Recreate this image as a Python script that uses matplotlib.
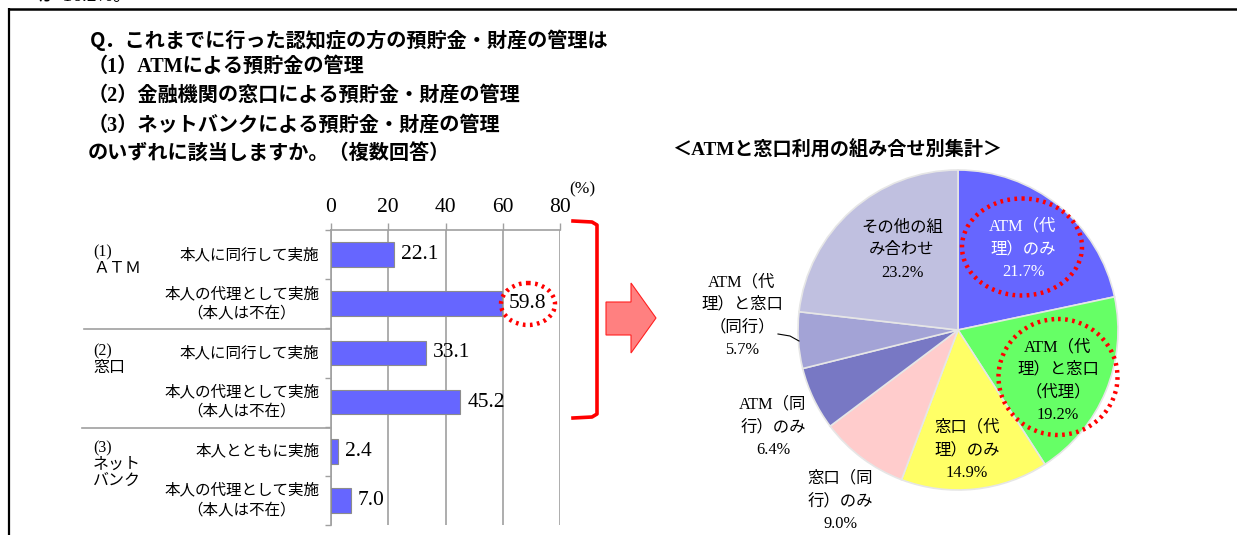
import matplotlib
matplotlib.use('Agg')
import matplotlib.pyplot as plt
from matplotlib.patches import Ellipse, Polygon
import numpy as np

W, H = 1237, 535
JP = 'Noto Sans CJK JP'
SERIF = 'Liberation Serif'
MIX = [SERIF, JP]

# ---------------- data ----------------
bar_labels = ['本人に同行して実施', '本人の代理として実施\n（本人は不在）',
              '本人に同行して実施', '本人の代理として実施\n（本人は不在）',
              '本人とともに実施', '本人の代理として実施\n（本人は不在）']
bar_values = [22.1, 59.8, 33.1, 45.2, 2.4, 7.0]
group_labels = ['(1)\nＡＴＭ', '(2)\n窓口', '(3)\nネット\nバンク']
x_ticks = [0, 20, 40, 60, 80]

pie_labels = ['ATM（代\n理）のみ', 'ATM（代\n理）と窓口\n（代理）', '窓口（代\n理）のみ',
              '窓口（同\n行）のみ', 'ATM（同\n行）のみ', 'ATM（代\n理）と窓口\n（同行）',
              'その他の組\nみ合わせ']
pie_values = [21.7, 19.2, 14.9, 9.0, 6.4, 5.7, 23.2]
pie_colors = ['#6666FF', '#66FF66', '#FFFF66', '#FFCCCC', '#7878C4', '#A3A3D6', '#C0C0E0']
pie_text_colors = ['white', 'black', 'black', 'black', 'black', 'black', 'black']

title_lines = ['Q．これまでに行った認知症の方の預貯金・財産の管理は',
               '（1）ATMによる預貯金の管理',
               '（2）金融機関の窓口による預貯金・財産の管理',
               '（3）ネットバンクによる預貯金・財産の管理',
               'のいずれに該当しますか。（複数回答）']
pie_title = '＜ATMと窓口利用の組み合せ別集計＞'

# ---------------- figure ----------------
fig = plt.figure(figsize=(W / 100, H / 100), dpi=100)


def fax(l, t, r, b, **kw):
    return fig.add_axes([l / W, 1 - b / H, (r - l) / W, (b - t) / H], **kw)


# ---- bar chart ----
ax = fax(331, 230, 560, 525)
ypos = np.arange(len(bar_values)) + 0.5
ax.barh(ypos, bar_values, height=0.5, color='#6666FF', edgecolor='#8C8C8C',
        linewidth=0.8, zorder=3)
ax.set_xlim(0, 80)
ax.set_ylim(len(bar_values), 0)
ax.set_xticks(x_ticks)
ax.xaxis.tick_top()
ax.set_xticklabels([str(t) for t in x_ticks], fontfamily=SERIF, fontsize=15.5)
ax.set_yticks(np.arange(len(bar_values) + 1))
ax.set_yticklabels([])
ax.tick_params(axis='x', which='both', direction='out', length=5, color='#A0A0A0',
               pad=4, width=1)
ax.tick_params(axis='y', direction='out', length=4, color='#A0A0A0', width=1)
for s in ['right', 'bottom']:
    ax.spines[s].set_visible(False)
for s in ['left', 'top']:
    ax.spines[s].set_color('#A0A0A0')
    ax.spines[s].set_linewidth(1.2)
ax.grid(axis='x', color='#A0A0A0', linewidth=1.2, zorder=0)
ax.set_axisbelow(True)
for y, v, lab in zip(ypos, bar_values, bar_labels):
    ax.annotate(f'{v:.1f}', xy=(v, y), xytext=(5, 0), textcoords='offset points',
                ha='left', va='center', fontfamily=SERIF, fontsize=15.5)
    ax.annotate(lab, xy=(0, y), xytext=(-8.5, 0), textcoords='offset points',
                ha='right', va='center', multialignment='center',
                fontfamily=JP, fontsize=11.2, linespacing=1.25)

# ---- pie chart ----
pax = fax(798, 170, 1118, 490)
pax.pie(pie_values, colors=pie_colors, startangle=90, counterclock=False,
        wedgeprops=dict(edgecolor='#E6E6E6', linewidth=1.2))
pax.set_xlim(-1, 1)
pax.set_ylim(-1, 1)
pax.set_aspect('equal')

# ---- overlay in pixel coordinates ----
ov = fax(0, 0, W, H, zorder=10)
ov.set_xlim(0, W)
ov.set_ylim(H, 0)
ov.axis('off')
ov.patch.set_visible(False)

# frame
ov.plot([8, W], [8.5, 8.5], color='black', lw=1.8, solid_capstyle='butt')
ov.plot([8.5, 8.5], [8, H], color='black', lw=1.6, solid_capstyle='butt')
ov.text(38, 5, 'が 16.2%。', fontfamily=MIX, fontsize=14, ha='left', va='bottom')

# titles
title_y = [40, 67, 96, 126, 155]
for i, (t, y) in enumerate(zip(title_lines, title_y)):
    ov.text(88 if i else 90, y, t, fontfamily=(JP if i == 0 else MIX), fontweight='bold',
            fontsize=14.5, ha='left', va='center')
ov.text(672, 150, pie_title, fontfamily=MIX, fontweight='bold', fontsize=13.8,
        ha='left', va='center')
ov.text(582, 189, '(%)', fontfamily=SERIF, fontsize=12.5, ha='center', va='center')

# group labels
for lab, y in zip(group_labels, [244, 343, 440]):
    ov.text(93, y, lab, fontfamily=MIX, fontsize=11.5, ha='left', va='top',
            linespacing=1.05)
# separators
ov.plot([84, 331], [328.5, 328.5], color='#A0A0A0', lw=1.2)
ov.plot([82, 331], [427.5, 427.5], color='#A0A0A0', lw=1.2)

# red bracket
ov.plot([573, 592, 597, 597, 592, 573], [221, 222, 225, 414, 417, 418],
        color='#FF0000', lw=2.6, solid_joinstyle='round')
# block arrow
ov.add_patch(Polygon([(606, 302), (631, 302), (631, 283), (656, 318), (631, 353),
                      (631, 335), (606, 335)], closed=True, facecolor='#FF8080',
                     edgecolor='#FF2020', lw=0.8))

# dotted ellipses
for cx, cy, w, h in [(528, 304, 54, 42), (1022, 247, 120, 97), (1058, 377, 119, 116)]:
    ov.add_patch(Ellipse((cx, cy), w, h, fill=False, edgecolor='#FF0000', lw=3.2,
                         linestyle=(0, (0.6, 1.0))))

# pie labels
pie_label_pos = [(1023, 249), (1058, 381), (967, 450), (840, 501), (773, 427),
                 (742, 316), (902, 250)]
for lab, v, (x, y), c in zip(pie_labels, pie_values, pie_label_pos, pie_text_colors):
    ov.text(x, y, f'{lab}\n{v:.1f}%', fontfamily=MIX, fontsize=11.8, color=c,
            ha='center', va='center', multialignment='center', linespacing=1.55)
# leader line
ov.plot([778, 790, 799], [334, 336, 341], color='black', lw=0.8)

fig.savefig('out.png', dpi=100)
